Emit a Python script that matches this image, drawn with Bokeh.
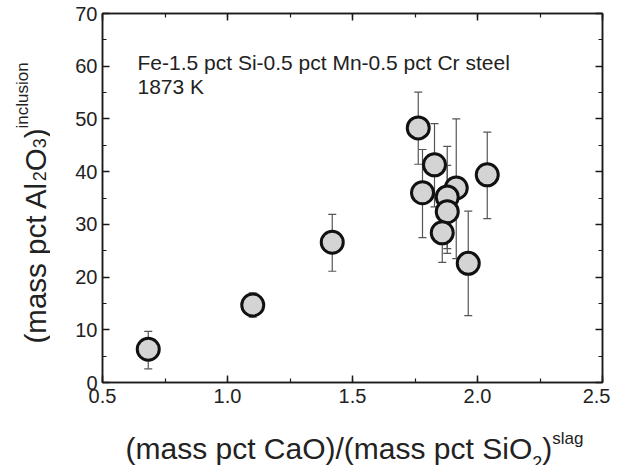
import math
from bokeh.plotting import figure
from bokeh.layouts import row, column
from bokeh.models import (ColumnDataSource, Whisker, TeeHead, Label, LinearAxis,
                          SingleIntervalTicker, NumeralTickFormatter, CustomJSTickFormatter)
from bokeh.embed import file_html
from bokeh.resources import INLINE

# ---- data ----
basicity = [0.683, 1.101, 1.419, 1.763, 1.828, 1.780, 1.915, 1.879, 1.879, 1.859, 1.963, 2.039]
al2o3 = [6.3, 14.7, 26.6, 48.3, 41.3, 36.0, 36.9, 35.2, 32.4, 28.4, 22.6, 39.4]
al2o3_upper = [9.7, 17.0, 31.9, 55.1, 49.1, 44.2, 50.0, 44.8, 41.2, 34.0, 32.5, 47.5]
al2o3_lower = [2.6, 12.4, 21.1, 41.4, 33.3, 27.5, 23.5, 25.4, 24.5, 22.8, 12.7, 31.1]
x_ticks_interval = 0.5
y_ticks_interval = 10

FONT = "Liberation Sans"
TXT = "#222222"

# page geometry (reference pixels)
YLAB_W = 50            # column holding the rotated y label
L, T, FW, FH = 102, 13, 500, 369   # frame in page pixels
MAIN_BL = L - YLAB_W
MAIN_BT = T
MAIN_BB = 28
MAIN_BR = 8
MAIN_W = MAIN_BL + FW + MAIN_BR
MAIN_H = MAIN_BT + FH + MAIN_BB
XLAB_H = 55
TOTAL_H = MAIN_H + XLAB_H

p = figure(width=MAIN_W, height=MAIN_H, x_range=(0.5, 2.5), y_range=(0, 70),
           output_backend="svg", toolbar_location=None,
           min_border_left=MAIN_BL, min_border_right=MAIN_BR,
           min_border_top=MAIN_BT, min_border_bottom=MAIN_BB)
p.xgrid.visible = False
p.ygrid.visible = False
p.outline_line_color = "#1a1a1a"
p.outline_line_width = 1.5
p.background_fill_color = "white"
p.border_fill_color = "white"

def style_axis(ax, labels=True):
    ax.major_tick_in = 7
    ax.major_tick_out = 0
    ax.minor_tick_in = 4
    ax.minor_tick_out = 0
    ax.major_tick_line_color = "#1a1a1a"
    ax.minor_tick_line_color = "#1a1a1a"
    ax.major_tick_line_width = 1.5
    ax.minor_tick_line_width = 1.2
    ax.axis_line_color = "#1a1a1a"
    ax.axis_line_width = 1.5
    ax.major_label_text_font = FONT
    ax.major_label_text_color = TXT
    if labels:
        ax.major_label_text_font_size = "20px"
    else:
        ax.formatter = CustomJSTickFormatter(code="return ''")
        ax.major_label_text_font_size = "1px"
        ax.major_label_standoff = 0

p.xaxis.ticker = SingleIntervalTicker(interval=x_ticks_interval, num_minor_ticks=2)
p.yaxis.ticker = SingleIntervalTicker(interval=y_ticks_interval, num_minor_ticks=2)
p.xaxis.formatter = NumeralTickFormatter(format="0.0")
style_axis(p.xaxis[0])
style_axis(p.yaxis[0])
p.xaxis.major_label_standoff = 6
p.yaxis.major_label_standoff = 5

top_ax = LinearAxis(ticker=SingleIntervalTicker(interval=x_ticks_interval, num_minor_ticks=2))
right_ax = LinearAxis(ticker=SingleIntervalTicker(interval=y_ticks_interval, num_minor_ticks=2))
style_axis(top_ax, labels=False)
style_axis(right_ax, labels=False)
p.add_layout(top_ax, "above")
p.add_layout(right_ax, "right")

src = ColumnDataSource(dict(x=basicity, y=al2o3, upper=al2o3_upper, lower=al2o3_lower))
wh = Whisker(base="x", upper="upper", lower="lower", source=src, dimension="height",
             line_color="#555555", line_width=1.2,
             upper_head=TeeHead(size=8, line_color="#555555", line_width=1.2),
             lower_head=TeeHead(size=8, line_color="#555555", line_width=1.2))
p.add_layout(wh)
p.scatter("x", "y", source=src, size=22, fill_color="#d4d4d4",
          line_color="#111111", line_width=3)

AW = {'(': 333, ')': 333, 'm': 833, 'a': 556, 's': 500, ' ': 278, 'p': 556, 'c': 500,
      't': 278, 'C': 722, 'O': 778, '/': 278, 'S': 667, 'i': 222, 'A': 667, 'l': 222,
      'n': 556, 'u': 556, 'o': 556, 'g': 556, '2': 556, '3': 556}

def tw(s, size):
    return sum(AW.get(ch, 556) for ch in s) / 1000.0 * size

def lab(fig, text, x, y, size, angle=0.0):
    fig.add_layout(Label(x=x, y=y, text=text, text_font=FONT, text_font_size=f"{size}px",
                         text_color=TXT, text_align="left", text_baseline="alphabetic",
                         angle=angle))

# annotation inside the frame (page pixels -> data)
def dx(px):
    return 0.5 + (px - L) / FW * 2.0

def dy(py):
    return (T + FH - py) / FH * 70.0

lab(p, "Fe-1.5 pct Si-0.5 pct Mn-0.5 pct Cr steel", dx(137), dy(61.5), 21)
lab(p, "1873 K", dx(137), dy(86), 21)

def text_fig(w, h, xr, yr):
    f = figure(width=w, height=h, x_range=xr, y_range=yr,
               x_axis_type=None, y_axis_type=None, output_backend="svg",
               toolbar_location=None, min_border=0)
    f.xgrid.visible = False
    f.ygrid.visible = False
    f.outline_line_color = None
    f.background_fill_color = "white"
    f.border_fill_color = "white"
    return f

# x-axis label figure: its frame is aligned with the main frame (page x L..L+FW)
XBIG, YBIG, SMALL = 30, 29.5, 18
xf = text_fig(MAIN_W, XLAB_H, (L, L + FW), (0, XLAB_H))
def xfy(py):
    return TOTAL_H - py

x_main = "(mass pct CaO)/(mass pct SiO"
px0, base = 125, 448
lab(xf, x_main, px0, xfy(base), XBIG)
px = px0 + tw(x_main, XBIG)
lab(xf, "2", px, xfy(base + 14), SMALL)
px += tw("2", SMALL)
lab(xf, ")", px, xfy(base), XBIG)
px += tw(")", XBIG)
lab(xf, "slag", px, xfy(base - 10), 17)

# y-axis label figure: page x = fx, page y = TOTAL_H - fy
yf = text_fig(YLAB_W, TOTAL_H, (0, YLAB_W), (0, TOTAL_H))
def yfy(py):
    return TOTAL_H - py

ang = math.pi / 2
y_main = "(mass pct Al"
py0, bx = 343, 35
lab(yf, y_main, bx, yfy(py0), YBIG, ang)
py = py0 - tw(y_main, YBIG)
lab(yf, "2", bx + 4, yfy(py), SMALL, ang)
py -= tw("2", SMALL)
lab(yf, "O", bx, yfy(py), YBIG, ang)
py -= tw("O", YBIG)
lab(yf, "3", bx + 4, yfy(py), SMALL, ang)
py -= tw("3", SMALL)
lab(yf, ")", bx, yfy(py), YBIG, ang)
py -= tw(")", YBIG)
lab(yf, "inclusion", bx - 13, yfy(py), 17, ang)

layout = row(yf, column(p, xf, spacing=0), spacing=0)

open("out.html", "w").write(file_html(layout, INLINE))
